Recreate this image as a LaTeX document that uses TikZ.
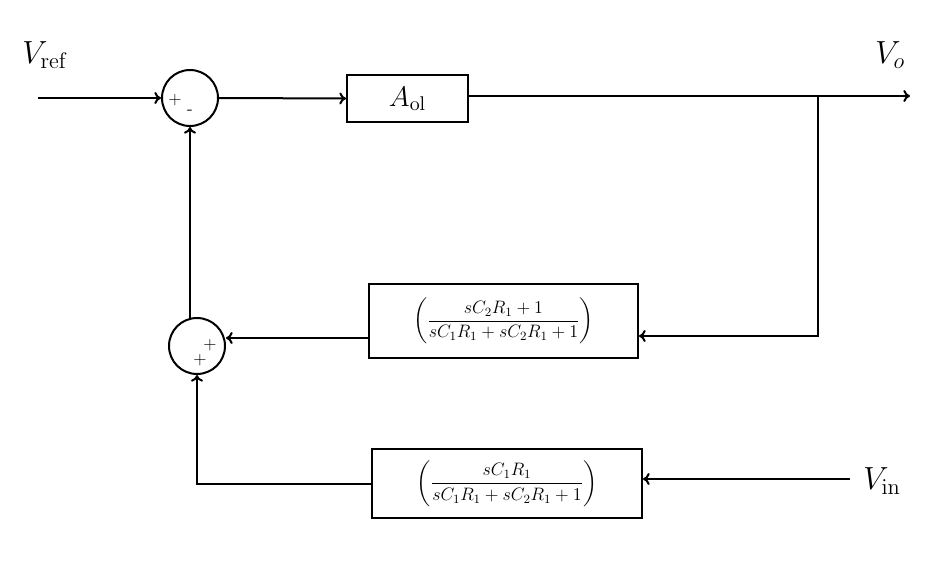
\documentclass[tikz,border=0pt]{standalone}
\usepackage{fix-cm}
\usepackage{amsmath}
\usepackage{graphicx}
\usetikzlibrary{arrows.meta}
\begin{document}
\begin{tikzpicture}[x=0.75pt,y=-0.75pt,
  blk/.style={draw,line width=1.5pt,inner sep=0pt},
  sumn/.style={draw,circle,line width=1.5pt,inner sep=0pt},
  ar/.style={line width=1.5pt,-{To[length=5pt,width=9pt]}},
  sg/.style={font=\fontsize{13}{15}\selectfont\sffamily}]
\useasboundingbox (0,0) rectangle (950,588);
\node[sumn,minimum size=56*0.75pt] (s1) at (190,98) {};
\node[sumn,minimum size=56*0.75pt] (s2) at (197,346) {};
\node[blk,minimum width=121*0.75pt,minimum height=47*0.75pt] (a) at (407.5,98.5) {\fontsize{17}{20}\selectfont\scalebox{1.25}{$A_{\mathrm{ol}}$}};
\node[blk,minimum width=269*0.75pt,minimum height=74*0.75pt] (b2) at (503.5,321) {\fontsize{13.5}{16}\selectfont$\left(\dfrac{sC_2R_1+1}{sC_1R_1+sC_2R_1+1}\right)$};
\node[blk,minimum width=270*0.75pt,minimum height=69*0.75pt] (b3) at (507,483.5) {\fontsize{13.5}{16}\selectfont$\left(\dfrac{sC_1R_1}{sC_1R_1+sC_2R_1+1}\right)$};
\coordinate (in) at (38,98);
\coordinate (out) at (910,96);
\coordinate (br) at (818,96);
\coordinate (vin) at (850,479);
\node (vref) at (45,55) {\fontsize{24}{28}\selectfont$V_{\mathrm{ref}}$};
\node (vo) at (890,55) {\fontsize{24}{28}\selectfont$V_o$};
\node (vinl) at (882,481) {\fontsize{24}{28}\selectfont$V_{\mathrm{in}}$};
\node[sg] (p1) at (175,100) {+};
\node[sg] (m1) at (190,112) {-};
\node[sg] (p2) at (210,345) {+};
\node[sg] (p3) at (200,360) {+};
\draw[ar] (in) -- (s1.west);
\draw[ar] (s1.east) -- (a.west);
\draw[ar] (a.east |- out) -- (out);
\draw[ar] (br) |- (b2.east |- 0,336);
\draw[ar] (b2.west |- 0,338) -- (s2.east |- 0,338);
\draw[ar] (190,320) -- (s1.south);
\draw[ar] (vin) -- (b3.east |- vin);
\draw[ar] (b3.west |- 0,484) -| (s2.south);
\end{tikzpicture}
\end{document}
